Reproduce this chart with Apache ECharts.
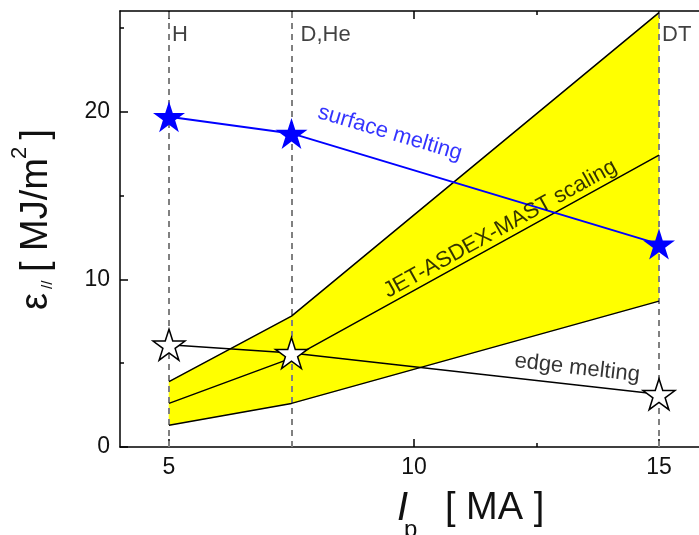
<!DOCTYPE html>
<html>
<head>
<meta charset="utf-8">
<script src="https://cdn.jsdelivr.net/npm/echarts@6/dist/echarts.min.js"></script>
<style>
html,body{margin:0;padding:0;background:#fff;}
#chart{width:699px;height:535px;}
</style>
</head>
<body>
<div id="chart"></div>
<script>
// ---- data ----
const currents = [5, 7.5, 15];               // Ip [MA]
const surfaceMelting = [19.7, 18.7, 12.1];
const edgeMelting = [6.1, 5.6, 3.15];
const scalingUpper = [3.9, 7.8, 25.9];
const scalingMid = [2.6, 5.3, 17.4];
const scalingLower = [1.3, 2.6, 8.7];
const regimes = ['H', 'D,He', 'DT'];
const xTicksMajor = [5, 10, 15];
const xTicksMinor = [7.5, 12.5];
const yTicksMajor = [0, 10, 20];
const yTicksMinor = [5, 15, 25];
const regimeLabelY = 24.6;

const FONT = "'Liberation Sans', Arial, sans-serif";
const TXT = '#111';
const STAR = 'path://M100,0 L122.45,69.1 L195.11,69.1 L136.33,111.8 L158.78,180.9 L100,138.2 L41.22,180.9 L63.67,111.8 L4.89,69.1 L77.55,69.1 Z';

const pairs = arr => currents.map((x, i) => [x, arr[i]]);
const bandSegments = currents.slice(0, -1).map((x, i) =>
  [x, scalingLower[i], scalingUpper[i], currents[i + 1], scalingLower[i + 1], scalingUpper[i + 1]]);

function xAx(pos, ticks, len, labels, line) {
  return {
    type: 'value', position: pos, min: 4, max: 16,
    axisLine: { show: line, onZero: false, lineStyle: { color: '#000', width: 1.5 } },
    axisTick: { show: true, inside: true, length: len, customValues: ticks, lineStyle: { color: '#000', width: 1.5 } },
    axisLabel: labels ? { show: true, customValues: ticks, fontSize: 23, color: TXT, fontFamily: FONT, margin: 9 } : { show: false },
    splitLine: { show: false }
  };
}
function yAx(pos, ticks, len, labels, line) {
  return {
    type: 'value', position: pos, min: 0, max: 26,
    axisLine: { show: line, onZero: false, lineStyle: { color: '#000', width: 1.5 } },
    axisTick: { show: true, inside: true, length: len, customValues: ticks, lineStyle: { color: '#000', width: 1.5 } },
    axisLabel: labels ? { show: true, customValues: ticks, fontSize: 23, color: TXT, fontFamily: FONT, margin: 10 } : { show: false },
    splitLine: { show: false }
  };
}

const chart = echarts.init(document.getElementById('chart'), null, { renderer: 'canvas' });

const annoLabel = (text, color, rot) => ({
  show: true, position: 'inside', formatter: text, rotate: rot,
  color: color, fontSize: 22, fontFamily: FONT
});

const option = {
  animation: false,
  backgroundColor: '#fff',
  grid: { left: 120, top: 11, right: -9, bottom: 88, containLabel: false, outerBoundsMode: 'none' },
  xAxis: [
    xAx('bottom', xTicksMajor, 8, true, true),
    xAx('bottom', xTicksMinor, 4, false, false),
    xAx('top', xTicksMajor, 8, false, true),
    xAx('top', xTicksMinor, 4, false, false)
  ],
  yAxis: [
    yAx('left', yTicksMajor, 8, true, true),
    yAx('left', yTicksMinor, 4, false, false),
    yAx('right', yTicksMajor, 8, false, true),
    yAx('right', yTicksMinor, 4, false, false)
  ],
  series: [
    { name: 'band', type: 'custom', z: 1, silent: true,
      data: bandSegments,
      encode: { x: [0, 3], y: [1, 2, 4, 5] },
      renderItem: (params, api) => {
        const a = api.coord([api.value(0), api.value(1)]);
        const b = api.coord([api.value(3), api.value(4)]);
        const c = api.coord([api.value(3), api.value(5)]);
        const d = api.coord([api.value(0), api.value(2)]);
        return { type: 'polygon', shape: { points: [a, b, c, d] },
          style: { fill: '#ffff00', stroke: '#ffff00', lineWidth: 0.6 } };
      } },
    { name: 'regimes', type: 'scatter', symbolSize: 0, z: 2,
      data: currents.map((x, i) => ({ value: [x, regimeLabelY], name: regimes[i],
        label: { distance: i === 1 ? 9 : 3 } })),
      label: { show: true, position: 'right', formatter: p => p.name, fontSize: 22, color: TXT, fontFamily: FONT },
      markLine: { silent: true, z: 2, symbol: ['none', 'none'], label: { show: false },
        lineStyle: { color: '#808080', type: [6, 5], width: 2 },
        data: currents.map(x => ({ xAxis: x })) } },
    { name: 'upper', type: 'line', data: pairs(scalingUpper), symbol: 'none', lineStyle: { color: '#000', width: 1.5 }, z: 3 },
    { name: 'scaling', type: 'line', data: pairs(scalingMid), symbol: 'none', lineStyle: { color: '#000', width: 1.5 }, z: 3 },
    { name: 'lower', type: 'line', data: pairs(scalingLower), symbol: 'none', lineStyle: { color: '#000', width: 1.5 }, z: 3 },
    { name: 'edge melting', type: 'line', data: pairs(edgeMelting), symbol: STAR, symbolSize: [32, 31], showAllSymbol: true,
      lineStyle: { color: '#000', width: 1.5 }, itemStyle: { color: '#fff', borderColor: '#000', borderWidth: 1.5 }, z: 4 },
    { name: 'surface melting', type: 'line', data: pairs(surfaceMelting), symbol: STAR, symbolSize: [32, 31], showAllSymbol: true,
      lineStyle: { color: '#0000ff', width: 2 }, itemStyle: { color: '#0000ff' }, z: 5 },
    { name: 'annotations', type: 'scatter', symbolSize: 0, z: 6, silent: true,
      data: [
        { value: [9.51, 18.72], label: annoLabel('surface melting', '#0000ff', -16.5) },
        { value: [11.76, 13.0], label: annoLabel('JET-ASDEX-MAST scaling', '#000', 29) },
        { value: [13.33, 4.71], label: annoLabel('edge melting', '#000', -6.5) }
      ] }
  ],
  graphic: [
    { type: 'text', x: 397, y: 509, style: { text: 'I', fontSize: 40, fontStyle: 'italic', fontFamily: FONT, fill: TXT, align: 'left', verticalAlign: 'middle' } },
    { type: 'text', x: 404, y: 530, style: { text: 'p', fontSize: 24, fontFamily: FONT, fill: TXT, align: 'left', verticalAlign: 'middle' } },
    { type: 'text', x: 445, y: 509, style: { text: '[ MA ]', fontSize: 38, fontFamily: FONT, fill: TXT, align: 'left', verticalAlign: 'middle' } },
    { type: 'group', x: 50, y: 310, rotation: Math.PI / 2, children: [
      { type: 'text', x: 0, y: -13.2, style: { text: 'ε', fontSize: 38, fontFamily: FONT, fill: TXT, align: 'left', verticalAlign: 'middle' } },
      { type: 'text', x: 21, y: -2.2, style: { text: '//', fontSize: 15, fontFamily: FONT, fill: TXT, align: 'left', verticalAlign: 'middle' } },
      { type: 'text', x: 38, y: -13.2, style: { text: '[ MJ/m', fontSize: 38, fontFamily: FONT, fill: TXT, align: 'left', verticalAlign: 'middle' } },
      { type: 'text', x: 151, y: -30, style: { text: '2', fontSize: 22, fontFamily: FONT, fill: TXT, align: 'left', verticalAlign: 'middle' } },
      { type: 'text', x: 160, y: -13.2, style: { text: ' ]', fontSize: 38, fontFamily: FONT, fill: TXT, align: 'left', verticalAlign: 'middle' } }
    ] }
  ]
};
chart.setOption(option);
</script>
</body>
</html>
